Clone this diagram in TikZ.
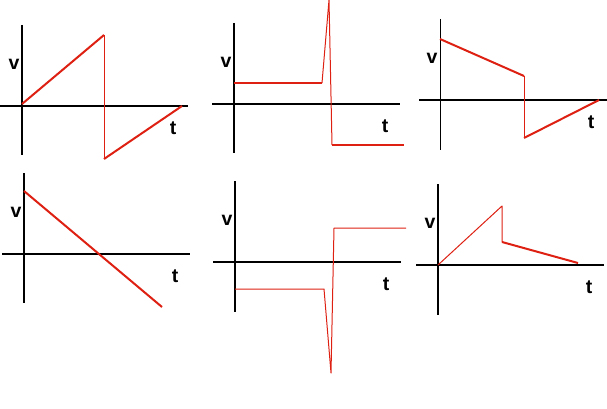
\documentclass[tikz,border=0pt]{standalone}
\usepackage{fontspec}
\setmainfont{Liberation Sans}
\usetikzlibrary{positioning}
\definecolor{wavered}{RGB}{221,32,18}
\begin{document}
\begin{tikzpicture}[x=1pt, y=-1pt,
    axis/.style={line width=2pt, black},
    thinaxis/.style={line width=1pt, black},
    wave/.style={wavered, line width=2pt, line join=round},
    thinwave/.style={wavered, line width=1pt, line join=round},
    lbl/.style={inner sep=0pt, font=\fontsize{19.5}{22}\selectfont\bfseries}]
			\useasboundingbox (0,0) rectangle (607,409);
			% top left
			\draw[axis] (22,25)--(22,155);
			\draw[axis] (0,106)--(188,106);
			\draw[wave] (22,104)--(104,35);
			\draw[thinwave] (104,35)--(104,159);
			\draw[wave] (104,159)--(182,106);
			\node[lbl] (v1) at (14,64) {v};
			\node[lbl] (t1) at (173,128) {t};
			% top middle
			\draw[axis] (234,23)--(234,153);
			\draw[axis] (212,104)--(400,104);
			\draw[wave] (234,83)--(322,83);
			\draw[thinwave] (322,83)--(329,0)--(332,145);
			\draw[wave] (332,145)--(404,145);
			\node[lbl] (v2) at (226,62) {v};
			\node[lbl] (t2) at (385,126) {t};
			% top right
			\draw[thinaxis] (440,19)--(440,150);
			\draw[axis] (419,100)--(607,100);
			\draw[wave] (440,39)--(524,76);
			\draw[thinwave] (524,76)--(524,138);
			\draw[wave] (524,138)--(599,100);
			\node[lbl] (v3) at (432,58) {v};
			\node[lbl] (t3) at (591,122) {t};
			% bottom left
			\draw[axis] (24,173)--(24,303);
			\draw[axis] (2,254)--(190,254);
			\draw[wave] (24,191)--(162,307);
			\node[lbl] (v4) at (16,212) {v};
			\node[lbl] (t4) at (175,276) {t};
			% bottom middle
			\draw[axis] (235,181)--(235,312);
			\draw[axis] (213,262)--(401,262);
			\draw[thinwave] (235,289)--(324,289)--(331,373)--(334,228)--(406,228);
			\node[lbl] (v5) at (227,220) {v};
			\node[lbl] (t5) at (386,284) {t};
			% bottom right
			\draw[axis] (438,184)--(438,315);
			\draw[axis] (416,265)--(604,265);
			\draw[thinwave] (438,265)--(502,206)--(502,242);
			\draw[wave] (502,242)--(578,263);
			\node[lbl] (v6) at (430,223) {v};
			\node[lbl] (t6) at (589,287) {t};
		\end{tikzpicture}
\end{document}
